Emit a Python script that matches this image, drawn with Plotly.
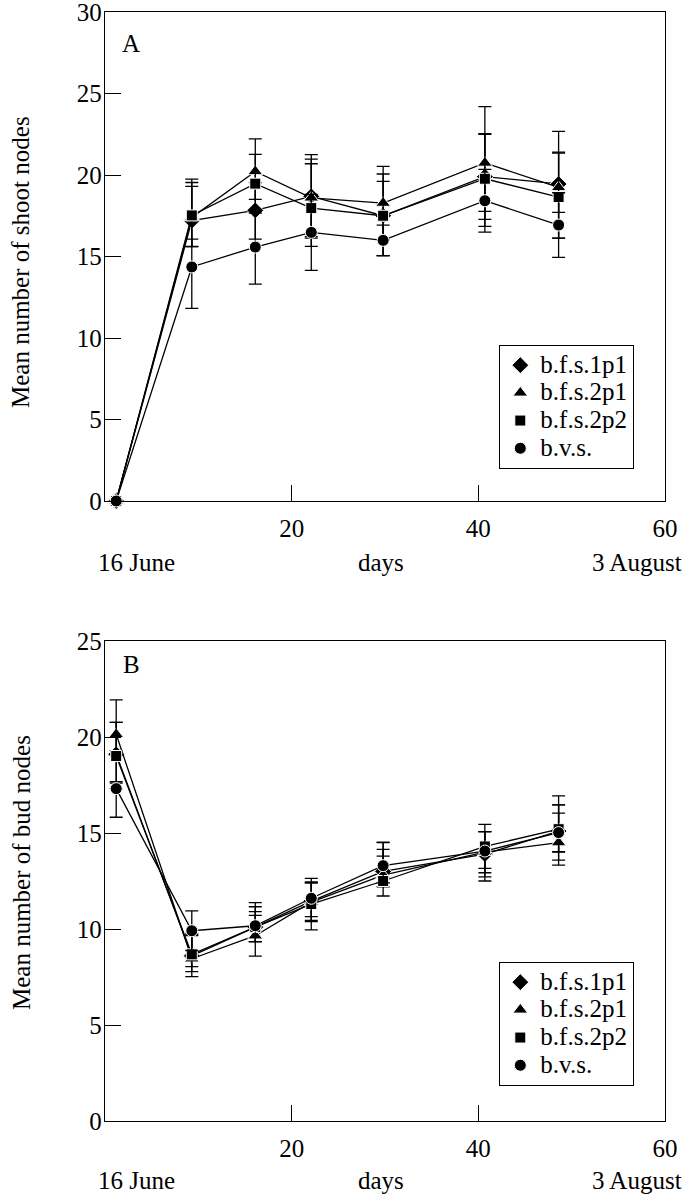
import plotly.graph_objects as go

# ---------------- data ----------------
days = [1.2, 9.3, 16.1, 22.1, 29.8, 40.7, 48.6]
series_names = ["b.f.s.1p1", "b.f.s.2p1", "b.f.s.2p2", "b.v.s."]

# Panel A: mean number of shoot nodes
a_bfs1p1 = [0, 17.2, 17.83, 18.69, 17.5, 19.9, 19.45]
a_bfs1p1_up = [0, 2.1, 1.7, 2.56, 2.11, 2.6, 1.95]
a_bfs1p1_dn = [0, 1.6, 1.76, 2.56, 2.45, 2.13, 1.74]
a_bfs2p1 = [0, 17.4, 20.22, 18.6, 18.28, 20.74, 19.24]
a_bfs2p1_up = [0, 2.14, 2.0, 2.38, 2.25, 3.46, 3.44]
a_bfs2p1_dn = [0, 1.8, 1.72, 2.38, 2.25, 3.46, 3.11]
a_bfs2p2 = [0, 17.52, 19.47, 17.97, 17.5, 19.77, 18.65]
a_bfs2p2_up = [0, 2.23, 1.8, 2.72, 2.56, 2.76, 2.7]
a_bfs2p2_dn = [0, 1.9, 1.8, 2.35, 2.45, 2.92, 2.52]
a_bvs = [0, 14.36, 15.58, 16.48, 15.99, 18.42, 16.93]
a_bvs_up = [0, 1.71, 2.27, 2.33, 0.94, 1.92, 1.98]
a_bvs_dn = [0, 2.54, 2.27, 2.33, 0.94, 1.92, 1.98]

# Panel B: mean number of bud nodes
b_bfs1p1 = [19.1, 8.6, 10.1, 11.45, 13.0, 13.9, 15.1]
b_bfs1p1_up = [1.66, 1.1, 0.8, 1.0, 1.5, 1.17, 1.36]
b_bfs1p1_dn = [1.5, 0.56, 0.76, 1.0, 0.6, 1.4, 1.1]
b_bfs2p1 = [20.14, 8.45, 9.65, 11.4, 12.8, 14.0, 14.5]
b_bfs2p1_up = [1.79, 1.2, 1.06, 1.0, 1.35, 1.07, 1.96]
b_bfs2p1_dn = [0.85, 0.67, 1.06, 0.76, 0.6, 1.07, 0.47]
b_bfs2p2 = [19.01, 8.68, 10.1, 11.3, 12.5, 14.3, 15.2]
b_bfs2p2_up = [1.75, 1.1, 1.06, 1.11, 1.3, 1.15, 1.73]
b_bfs2p2_dn = [1.7, 1.16, 0.76, 1.35, 0.78, 1.14, 1.87]
b_bvs = [17.31, 9.91, 10.17, 11.6, 13.3, 14.06, 15.02]
b_bvs_up = [0.36, 1.03, 1.2, 1.04, 1.22, 1.01, 1.01]
b_bvs_dn = [1.49, 1.03, 0.83, 1.22, 0.9, 1.34, 1.43]

x_tickvals = [20, 40, 60]

# ---------------- styling / layout ----------------
FONT = "Liberation Serif"
W, H = 689, 1199
ML, MR, MT, MB = 105, 24, 12, 78
PW, PH = W - ML - MR, H - MT - MB
symbols = ["diamond", "triangle-up", "square", "circle"]
msizes = [13, 13, 11, 12]


def px_x(p):
    """pixel x in the page -> paper x"""
    return (p - ML) / PW


def px_y(p):
    """pixel y in the page -> paper y"""
    return (H - MB - p) / PH


panel_A = [(a_bfs1p1, a_bfs1p1_up, a_bfs1p1_dn), (a_bfs2p1, a_bfs2p1_up, a_bfs2p1_dn),
           (a_bfs2p2, a_bfs2p2_up, a_bfs2p2_dn), (a_bvs, a_bvs_up, a_bvs_dn)]
panel_B = [(b_bfs1p1, b_bfs1p1_up, b_bfs1p1_dn), (b_bfs2p1, b_bfs2p1_up, b_bfs2p1_dn),
           (b_bfs2p2, b_bfs2p2_up, b_bfs2p2_dn), (b_bvs, b_bvs_up, b_bvs_dn)]

fig = go.Figure()
for panel, xa, ya, leg in [(panel_A, "x", "y", "legend"), (panel_B, "x2", "y2", "legend2")]:
    for i, (vals, up, dn) in enumerate(panel):
        fig.add_trace(go.Scatter(
            x=days, y=vals, xaxis=xa, yaxis=ya, mode="lines+markers",
            name=series_names[i], showlegend=False, cliponaxis=False,
            line=dict(color="black", width=1.3),
            marker=dict(symbol=symbols[i], size=msizes[i], color="black",
                        line=dict(color="white", width=1)),
            error_y=dict(type="data", symmetric=False, array=up, arrayminus=dn,
                         color="black", thickness=1.3, width=6.5),
        ))
    for i, name in enumerate(series_names):
        fig.add_trace(go.Scatter(
            x=[None], y=[None], xaxis=xa, yaxis=ya, mode="markers",
            name='<span style="font-size:25px">' + name + '</span>',
            legend=leg, showlegend=True,
            marker=dict(symbol=symbols[i], size=msizes[i], color="black",
                        line=dict(color="white", width=1)),
        ))

axis_common = dict(showline=True, mirror=True, linecolor="black", linewidth=1.3,
                   ticks="inside", ticklen=16, tickwidth=1.3, tickcolor="black",
                   showgrid=False, zeroline=False, automargin=False,
                   ticklabeloverflow="allow",
                   tickfont=dict(family=FONT, size=25, color="black"))

yA_bottom = px_y(501)
yB_top = px_y(641)

legend_common = dict(xanchor="left", yanchor="top", bordercolor="black", borderwidth=1.3,
                     bgcolor="white", font=dict(family=FONT, size=19, color="black"))

fig.update_layout(
    width=W, height=H,
    margin=dict(l=ML, r=MR, t=MT, b=MB, autoexpand=False),
    paper_bgcolor="white", plot_bgcolor="white",
    font=dict(family=FONT, size=25, color="black"),
    xaxis=dict(domain=[0, 1], anchor="y", range=[0, 60], tickvals=x_tickvals,
               ticklabelstandoff=5, **axis_common),
    yaxis=dict(domain=[yA_bottom, 1], anchor="x", range=[0, 30], dtick=5,
               ticklabelstandoff=-3, **axis_common),
    xaxis2=dict(domain=[0, 1], anchor="y2", range=[0, 60], tickvals=x_tickvals,
                ticklabelstandoff=5, **axis_common),
    yaxis2=dict(domain=[0, yB_top], anchor="x2", range=[0, 25], dtick=5,
                ticklabelstandoff=-3, **axis_common),
    legend=dict(x=px_x(499), y=px_y(345), **legend_common),
    legend2=dict(x=px_x(499), y=px_y(962), **legend_common),
)

ann = []


def add_text(text, x, y, size=25, angle=0):
    ann.append(dict(text=text, x=px_x(x), y=px_y(y), xref="paper", yref="paper",
                    xanchor="center", yanchor="middle", showarrow=False, textangle=angle,
                    font=dict(family=FONT, size=size, color="black")))


for row_y in (562, 1180):
    add_text("16 June", 136, row_y)
    add_text("days", 381, row_y)
    add_text("3 August", 637, row_y)
add_text("Mean number of shoot nodes", 21, 262, angle=-90)
add_text("Mean number of bud nodes", 21, 873, angle=-90)
add_text("A", 131, 44)
add_text("B", 131, 664)
fig.update_layout(annotations=ann)

# remove the browser's default 8px page margin so the figure sits at the window origin
fig.write_html("out.html", config={"displayModeBar": False},
               post_script="document.body.style.margin='0px';")
